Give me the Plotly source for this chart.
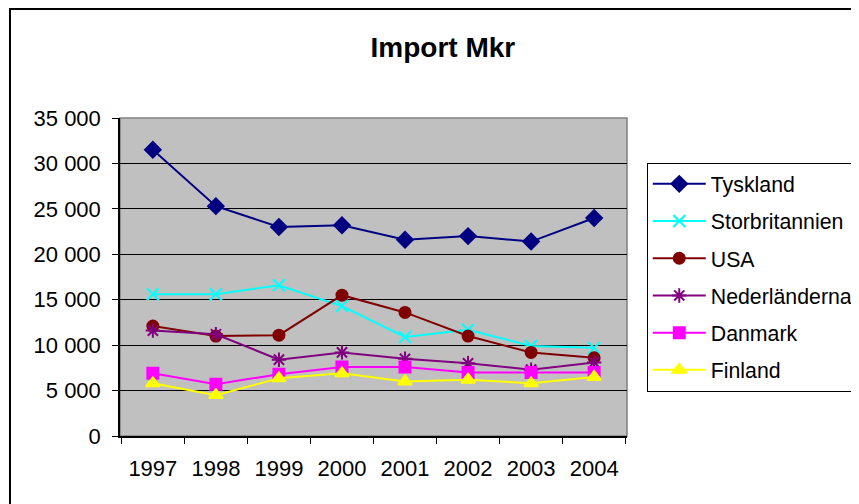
import plotly.graph_objs as go

YEARS = ["1997", "1998", "1999", "2000", "2001", "2002", "2003", "2004"]

TYSKLAND = [31500, 25300, 23000, 23200, 21600, 22000, 21400, 24000]
STORBRITANNIEN = [15600, 15600, 16600, 14300, 10900, 11700, 9900, 9700]
USA = [12100, 11000, 11100, 15500, 13600, 11000, 9200, 8600]
NEDERLANDERNA = [11600, 11200, 8400, 9200, 8500, 8000, 7300, 8100]
DANMARK = [6900, 5700, 6800, 7600, 7600, 7000, 7000, 7000]
FINLAND = [5800, 4500, 6350, 6900, 6000, 6200, 5800, 6500]

SERIES = [
    ("Tyskland", TYSKLAND, "#000080", "diamond", 12),
    ("Storbritannien", STORBRITANNIEN, "#00FFFF", "x-thin-open", 12),
    ("USA", USA, "#800000", "circle", 11),
    ("Nederländerna", NEDERLANDERNA, "#800080", "asterisk-open", 12),
    ("Danmark", DANMARK, "#FF00FF", "square", 11),
    ("Finland", FINLAND, "#FFFF00", "triangle-up", 12),
]

FONT = "Liberation Sans, Arial, sans-serif"

fig = go.Figure()
for name, values, color, symbol, size in SERIES:
    fig.add_trace(
        go.Scatter(
            x=YEARS,
            y=values,
            name=name,
            legendgroup=name,
            mode="lines+markers",
            line=dict(color=color, width=2),
            marker=dict(symbol=symbol, size=size, color=color,
                        line=dict(color=color, width=2)),
        )
    )

# plot area frame (top/right gray) and outer chart border
fig.add_shape(type="rect", xref="paper", yref="paper", x0=0, x1=1, y0=0, y1=1,
              line=dict(color="#808080", width=1.5), layer="below")
fig.add_shape(type="rect", xref="paper", yref="paper", x0=-0.217, x1=1.5,
              y0=-0.5, y1=1.343, line=dict(color="black", width=2))

# page body has an 8px margin, so the figure is a bit smaller than the window
fig.update_layout(
    width=851,
    height=496,
    margin=dict(l=112, r=232, t=110, b=68, autoexpand=False),
    paper_bgcolor="white",
    plot_bgcolor="#C0C0C0",
    separators=", ",
    font=dict(family=FONT, size=22, color="black"),
    title=dict(text="<b>Import Mkr</b>", x=0.511, xanchor="center",
               y=0.921, yanchor="middle", font=dict(size=28)),
    showlegend=True,
    legend=dict(
        x=1.039, xanchor="left", y=0.86, yanchor="top",
        bordercolor="black", borderwidth=1, bgcolor="white",
        font=dict(size=21.3), tracegroupgap=6.5, itemwidth=53,
    ),
    xaxis=dict(
        type="category", tickson="boundaries", ticks="outside", ticklen=6,
        tickcolor="black", showline=True, linecolor="black", linewidth=1.5,
        showgrid=False, ticklabelstandoff=12, fixedrange=True,
    ),
    yaxis=dict(
        range=[0, 35000], dtick=5000, tickformat=",d", ticks="outside",
        ticklen=6, tickcolor="black", showline=True, linecolor="black",
        linewidth=1.5, showgrid=True, gridcolor="black", gridwidth=1,
        zeroline=False, ticklabelstandoff=7, fixedrange=True,
    ),
)

fig.write_html("out.html")
